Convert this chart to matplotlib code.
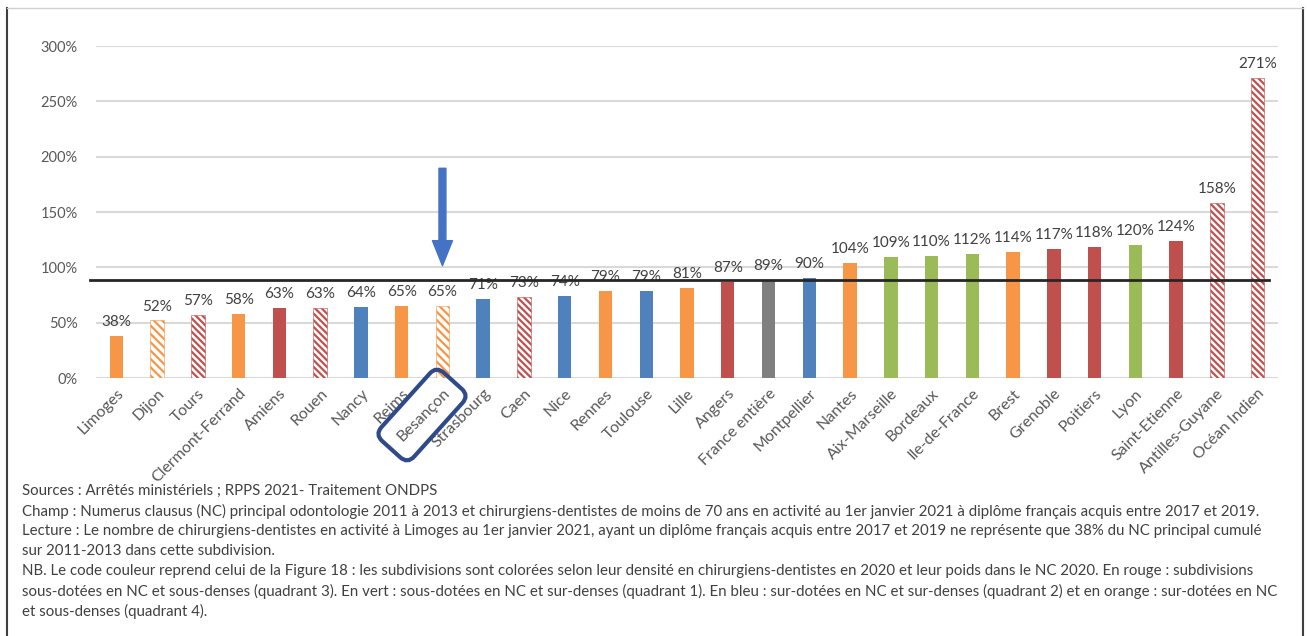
import matplotlib
matplotlib.use('Agg')
import matplotlib.pyplot as plt
from matplotlib.patches import FancyBboxPatch, FancyArrowPatch
from matplotlib.lines import Line2D
from matplotlib.transforms import Affine2D
import numpy as np

# ── data ─────────────────────────────────────────
subdivisions = ['Limoges', 'Dijon', 'Tours', 'Clermont-Ferrand', 'Amiens', 'Rouen',
                'Nancy', 'Reims', 'Besançon', 'Strasbourg', 'Caen', 'Nice', 'Rennes',
                'Toulouse', 'Lille', 'Angers', 'France entière', 'Montpellier', 'Nantes',
                'Aix-Marseille', 'Bordeaux', 'Ile-de-France', 'Brest', 'Grenoble',
                'Poitiers', 'Lyon', 'Saint-Etienne', 'Antilles-Guyane', 'Océan Indien']
ratios = [38, 52, 57, 58, 63, 63, 64, 65, 65, 71, 73, 74, 79, 79, 81, 87, 89, 90,
          104, 109, 110, 112, 114, 117, 118, 120, 124, 158, 271]
groups = ['orange', 'orange', 'red', 'orange', 'red', 'red', 'blue', 'orange', 'orange',
          'blue', 'red', 'blue', 'orange', 'blue', 'orange', 'red', 'gray', 'blue',
          'orange', 'green', 'green', 'green', 'orange', 'red', 'red', 'green', 'red',
          'red', 'red']
hatched = ['Dijon', 'Tours', 'Rouen', 'Besançon', 'Caen', 'Antilles-Guyane', 'Océan Indien']
france_ref = 89
highlight = 'Besançon'

notes = [
    "Sources : Arrêtés ministériels ; RPPS 2021- Traitement ONDPS",
    "Champ : Numerus clausus (NC) principal odontologie 2011 à 2013 et chirurgiens-dentistes de moins de 70 ans en activité au 1er janvier 2021 à diplôme français acquis entre 2017 et 2019.",
    "Lecture : Le nombre de chirurgiens-dentistes en activité à Limoges au 1er janvier 2021, ayant un diplôme français acquis entre 2017 et 2019 ne représente que 38% du NC principal cumulé",
    "sur 2011-2013 dans cette subdivision.",
    "NB. Le code couleur reprend celui de la Figure 18 : les subdivisions sont colorées selon leur densité en chirurgiens-dentistes en 2020 et leur poids dans le NC 2020. En rouge : subdivisions",
    "sous-dotées en NC et sous-denses (quadrant 3). En vert : sous-dotées en NC et sur-denses (quadrant 1). En bleu : sur-dotées en NC et sur-denses (quadrant 2) et en orange : sur-dotées en NC",
    "et sous-denses (quadrant 4).",
]

palette = {'orange': '#F79646', 'red': '#C0504D', 'blue': '#4F81BD',
           'green': '#9BBB59', 'gray': '#7F7F7F'}

plt.rcParams['font.family'] = ['Lato', 'DejaVu Sans']
plt.rcParams['hatch.linewidth'] = 1.6

fig = plt.figure(figsize=(13.07, 6.36), dpi=100)
ax = fig.add_axes([96/1307, 1 - 378/636, (1278-96)/1307, (378-46)/636])

x = np.arange(len(subdivisions))
for i, (name, val, grp) in enumerate(zip(subdivisions, ratios, groups)):
    c = palette[grp]
    if name in hatched:
        dens = '\\\\\\\\\\' if grp == 'red' else '\\\\\\\\'
        ax.bar(i, val, width=0.33, facecolor='white', edgecolor=c, hatch=dens,
               linewidth=0.4, zorder=3)
    else:
        ax.bar(i, val, width=0.33, color=c, zorder=3)
    ax.annotate(f'{val}%', (i, val), xytext=(0, 5), textcoords='offset points',
                ha='center', va='bottom', fontsize=11, color='#404040')

ax.set_xlim(-0.5, len(subdivisions) - 0.5)
ax.set_ylim(0, 300)
ax.set_yticks(range(0, 301, 50))
ax.set_yticklabels([f'{v}%' for v in range(0, 301, 50)])
ax.yaxis.grid(True, color='#D9D9D9', linewidth=1.5, zorder=0)
ax.set_axisbelow(True)
for s in ax.spines.values():
    s.set_visible(False)
ax.tick_params(axis='y', length=0, pad=13, labelsize=10.5, labelcolor='#595959')
ax.set_xticks(x)
ax.set_xticklabels(subdivisions, rotation=45, ha='right', rotation_mode='anchor',
                   fontsize=11.5, color='#595959')
ax.tick_params(axis='x', length=0, pad=6)

# France entière reference line
ax.plot([-0.64, 28.27], [france_ref, france_ref], color='#262626', linewidth=2,
        zorder=4, clip_on=False)

# arrow pointing at Besançon
hi = subdivisions.index(highlight)
arrow = FancyArrowPatch((hi, 192), (hi, 99), mutation_scale=20,
                        arrowstyle='simple,tail_width=0.25,head_width=0.72,head_length=0.9',
                        color='#4472C4', zorder=5, clip_on=False)
ax.add_patch(arrow)

# rounded box around the Besançon label (figure pixels)
cx, cy = 422, 636 - 415
box = FancyBboxPatch((cx - 46, cy - 22), 92, 44, boxstyle='round,pad=0,rounding_size=10',
                     facecolor='none', edgecolor='#2F4A8A', linewidth=3)
box.set_transform(Affine2D().rotate_deg_around(cx, cy, 48))
box.set_figure(fig)
fig.patches.append(box)

# notes under the chart
y0 = 491
for k, line in enumerate(notes):
    fig.text(22/1307, 1 - (y0 + k*20)/636, line, fontsize=10.85, color='#404040',
             ha='left', va='center')

# outer frame
fig.add_artist(Line2D([7/1307, 7/1307], [0, 1 - 8/636], color='#404040', linewidth=1.5))
fig.add_artist(Line2D([1303/1307, 1303/1307], [0, 1 - 8/636], color='#404040', linewidth=1.5))
fig.add_artist(Line2D([7/1307, 1303/1307], [1 - 8/636, 1 - 8/636], color='#D0D0D0', linewidth=1))

fig.savefig('out.png', dpi=100)
